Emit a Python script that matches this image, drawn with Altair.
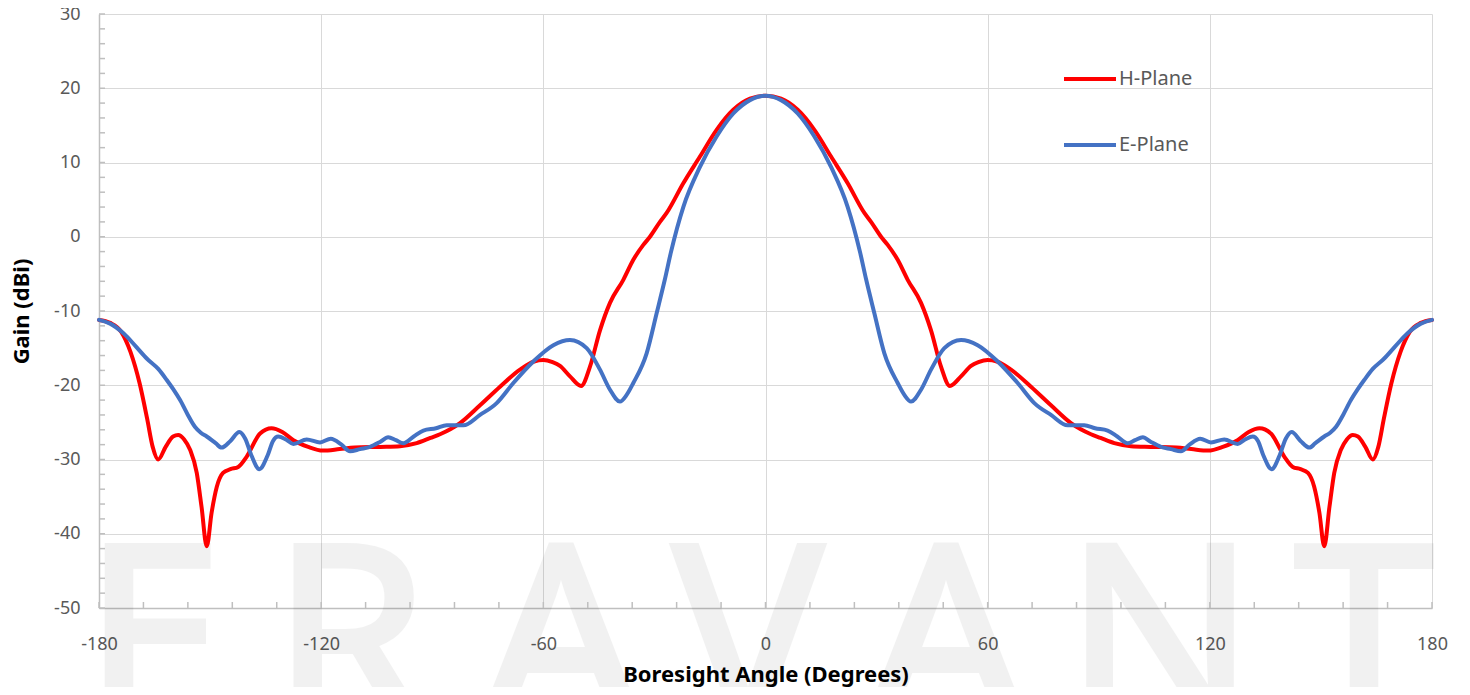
import altair as alt
import pandas as pd

# ---- H-Plane (red) ----
h_angle = [-180, -177, -174, -171.5, -169, -167, -165.5, -164, -162, -160, -158.6, -157, -155.4,
           -153.6, -152.3, -150.9, -149.6, -148.2, -146.5, -144.5, -142.4, -140.1, -136.5, -133.4,
           -130.5, -127.5, -123.5, -119.6, -115, -111, -104, -98.7, -94.2, -90.5, -87.9, -82.5,
           -77.1, -71.7, -66.3, -62.5, -60, -57.5, -55.5, -52.8, -49.8, -47.4, -44.7, -42, -38.4,
           -35.7, -33, -31.2, -28.5, -26.7, -22.2, -17.7, -13.2, -8.7, -4.2, 0,
           4.2, 8.7, 13.2, 17.7, 22.2, 26.7, 28.5, 31.2, 33, 35.7, 38.4, 42, 44.7, 47.4, 49.8,
           52.8, 55.5, 57.5, 60, 62.5, 66.3, 71.7, 77.1, 82.5, 87.9, 90.5, 94.2, 98.7, 104, 111,
           115, 119.6, 123.5, 127.5, 130.5, 133.4, 136.5, 140.1, 142.4, 144.5, 146.5, 148.2,
           149.6, 150.9, 152.3, 153.6, 155.4, 157, 158.6, 160, 162, 164, 165.5, 167, 169, 171.5,
           174, 177, 180]
h_gain = [-11.2, -11.6, -12.8, -15.5, -19.8, -24.5, -28.3, -30.0, -28.3, -26.9, -26.7, -27.3, -28.7,
          -31.8, -36.4, -41.7, -37.2, -33.7, -31.8, -31.3, -31.0, -29.6, -26.5, -25.8,
          -26.3, -27.4, -28.3, -28.8, -28.6, -28.4, -28.3, -28.2, -27.8, -27.1, -26.6, -25.1,
          -22.7, -20.2, -17.9, -16.8, -16.6, -16.9, -17.4, -18.8, -20.1, -17.5, -12.6, -8.9, -5.8,
          -3.1, -1.1, 0.0, 2.0, 3.2, 7.2, 10.8, 14.4, 17.1, 18.6, 19.0,
          18.6, 17.1, 14.4, 10.8, 7.2, 3.2, 2.0, 0.0, -1.1, -3.1, -5.8, -8.9, -12.6, -17.5, -20.1,
          -18.8, -17.4, -16.9, -16.6, -16.8, -17.9, -20.2, -22.7, -25.1, -26.6, -27.1, -27.8, -28.2, -28.3, -28.4,
          -28.6, -28.8, -28.3, -27.4, -26.3, -25.8, -26.5, -29.6, -31.0, -31.3, -31.8, -33.7,
          -37.2, -41.7, -36.4, -31.8, -28.7, -27.3, -26.7, -26.9, -28.3, -30.0, -28.3, -24.5, -19.8, -15.5,
          -12.8, -11.6, -11.2]

# ---- E-Plane (blue) ----
e_angle = [-180, -177, -173.4, -170, -167.1, -164, -161.7, -160, -158.1, -156, -154.1, -152.5, -150.9,
           -148.5, -146.9, -144.5, -142.1, -140.5, -138.8, -136.7, -134.5, -133, -131.6, -129.5,
           -127.5, -123.9, -120.3, -117.4, -114.5, -112.2, -109.5, -106.8, -104, -101.9, -99.8,
           -97.8, -95, -92.4, -89, -86.1, -81.6, -77.1, -72.6, -68.1, -62.7, -57.3, -52.8, -48.3,
           -44.7, -42, -39.3, -37.5, -35.7, -32.1, -29.4, -27.2, -25.5, -22.2, -17.7, -13.2, -8.7, -4.2, 0,
           4.2, 8.7, 13.2, 17.7, 22.2, 25.5, 27.2, 29.4, 32.1, 35.7, 37.5, 39.3, 42, 44.7,
           48.3, 52.8, 57.3, 62.7, 68.1, 72.6, 77.1, 81.6, 86.1, 89, 92.4, 95, 97.8,
           99.8, 101.9, 104, 106.8, 109.5, 112.2, 114.5, 117.4, 120.3, 123.9, 127.5,
           129.5, 131.6, 133, 134.5, 136.7, 138.8, 140.5, 142.1, 144.5, 146.9, 148.5,
           150.9, 152.5, 154.1, 156, 158.1, 160, 161.7, 164, 167.1, 170, 173.4, 177, 180]
e_gain = [-11.2, -11.7, -13.0, -14.8, -16.4, -17.8, -19.3, -20.5, -22.0, -24.0, -25.6, -26.4, -26.9,
          -27.8, -28.4, -27.5, -26.3, -27.2, -29.5, -31.3, -29.5, -27.5, -26.9, -27.3,
          -27.9, -27.3, -27.7, -27.2, -28.0, -28.9, -28.6, -28.3, -27.6, -27.0, -27.4,
          -27.8, -26.9, -26.1, -25.8, -25.4, -25.4, -24.0, -22.4, -19.7, -16.8, -14.6, -13.9, -15.0,
          -17.9, -20.6, -22.2, -21.3, -19.7, -15.7, -10.3, -5.8, -2.0, 4.0, 9.4, 13.5, 16.6, 18.4, 19.0,
          18.4, 16.6, 13.5, 9.4, 4.0, -2.0, -5.8, -10.3, -15.7, -19.7, -21.3, -22.2, -20.6, -17.9,
          -15.0, -13.9, -14.6, -16.8, -19.7, -22.4, -24.0, -25.4, -25.4, -25.8, -26.1, -26.9, -27.8,
          -27.4, -27.0, -27.6, -28.3, -28.6, -28.9, -28.0, -27.2, -27.7, -27.3, -27.9,
          -27.3, -26.9, -27.5, -29.5, -31.3, -29.5, -27.2, -26.3, -27.5, -28.4, -27.8,
          -26.9, -26.4, -25.6, -24.0, -22.0, -20.5, -19.3, -17.8, -16.4, -14.8, -13.0, -11.7, -11.2]

series_names = ["H-Plane", "E-Plane"]
series_colors = ["#FF0000", "#4472C4"]

x_major = [-180, -120, -60, 0, 60, 120, 180]
y_major = [-50, -40, -30, -20, -10, 0, 10, 20, 30]
x_minor = [-180, -168, -156, -144, -132, -120, -108, -96, -84, -72, -60, -48, -36, -24, -12, 0,
           12, 24, 36, 48, 60, 72, 84, 96, 108, 120, 132, 144, 156, 168, 180]
y_minor = [-50, -48, -46, -44, -42, -40, -38, -36, -34, -32, -30, -28, -26, -24, -22, -20, -18, -16,
           -14, -12, -10, -8, -6, -4, -2, 0, 2, 4, 6, 8, 10, 12, 14, 16, 18, 20, 22, 24, 26, 28, 30]

watermark_letters = ["E", "R", "A", "V", "A", "N", "T"]

df_h = pd.DataFrame({"angle": h_angle, "gain": h_gain, "series": "H-Plane"})
df_e = pd.DataFrame({"angle": e_angle, "gain": e_gain, "series": "E-Plane"})

W, H = 1333, 594
FONT = "Noto Sans"

x_scale = alt.Scale(domain=[-180, 180], nice=False, zero=False)
y_scale = alt.Scale(domain=[-50, 30], nice=False, zero=False)

x_axis = alt.Axis(values=x_major, title="Boresight Angle (Degrees)", labelExpr="'' + datum.value",
                  ticks=False, labelPadding=27, titlePadding=11, grid=True, labelFlush=False)
y_axis = alt.Axis(values=y_major, title="Gain (dBi)", labelExpr="'' + datum.value",
                  ticks=False, labelPadding=19, titlePadding=20, grid=True, labelFlush=False)

X = alt.X("angle:Q", scale=x_scale, axis=x_axis)
Y = alt.Y("gain:Q", scale=y_scale, axis=y_axis)

color = alt.Color(
    "series:N",
    scale=alt.Scale(domain=series_names, range=series_colors),
    legend=alt.Legend(title=None, orient="none", legendX=963, legendY=37,
                      symbolType="stroke", symbolSize=2704, symbolStrokeWidth=4,
                      rowPadding=28, labelFontSize=20, labelColor="#595959", labelFont=FONT,
                      labelOffset=1, padding=0),
)

# watermark letters (decoration), centres in plot pixels
wm_x = [54, 251, 462, 649, 847, 1061, 1265]
layers = []
for letter, px in zip(watermark_letters, wm_x):
    layers.append(
        alt.Chart(pd.DataFrame({"letter": [letter]}))
        .mark_text(font=FONT, fontSize=250, color="#000000", stroke="#000000", strokeWidth=6,
                   opacity=0.05, align="center", baseline="alphabetic")
        .encode(text="letter:N", x=alt.value(px), y=alt.value(711))
    )

xt = (
    alt.Chart(pd.DataFrame({"angle": x_minor}))
    .mark_rule(color="#bfbfbf", strokeWidth=1.5)
    .encode(x=X, y=alt.value(H - 6), y2=alt.value(H))
)
yt = (
    alt.Chart(pd.DataFrame({"gain": y_minor}))
    .mark_rule(color="#bfbfbf", strokeWidth=1.5)
    .encode(y=Y, x=alt.value(0), x2=alt.value(6))
)

line_h = (
    alt.Chart(df_h)
    .mark_line(strokeWidth=4, interpolate="monotone", strokeCap="round", strokeJoin="round")
    .encode(x=X, y=Y, color=color)
)
line_e = (
    alt.Chart(df_e)
    .mark_line(strokeWidth=4, interpolate="monotone", strokeCap="round", strokeJoin="round")
    .encode(x=X, y=Y, color=color)
)

chart = (
    alt.layer(*layers, xt, yt, line_h, line_e)
    .properties(width=W, height=H,
                autosize=alt.AutoSizeParams(type="none"),
                padding={"left": 91, "top": 6, "right": 22, "bottom": 79})
    .configure_view(stroke=None)
    .configure_axis(
        labelFont=FONT, labelFontSize=18, labelColor="#595959",
        titleFont=FONT, titleFontSize=22, titleFontWeight="bold", titleColor="#000000",
        domainColor="#bfbfbf", domainWidth=1.5,
        gridColor="#d9d9d9", gridWidth=1,
    )
)

chart.save("out.html", embed_options={"renderer": "svg", "actions": False})
